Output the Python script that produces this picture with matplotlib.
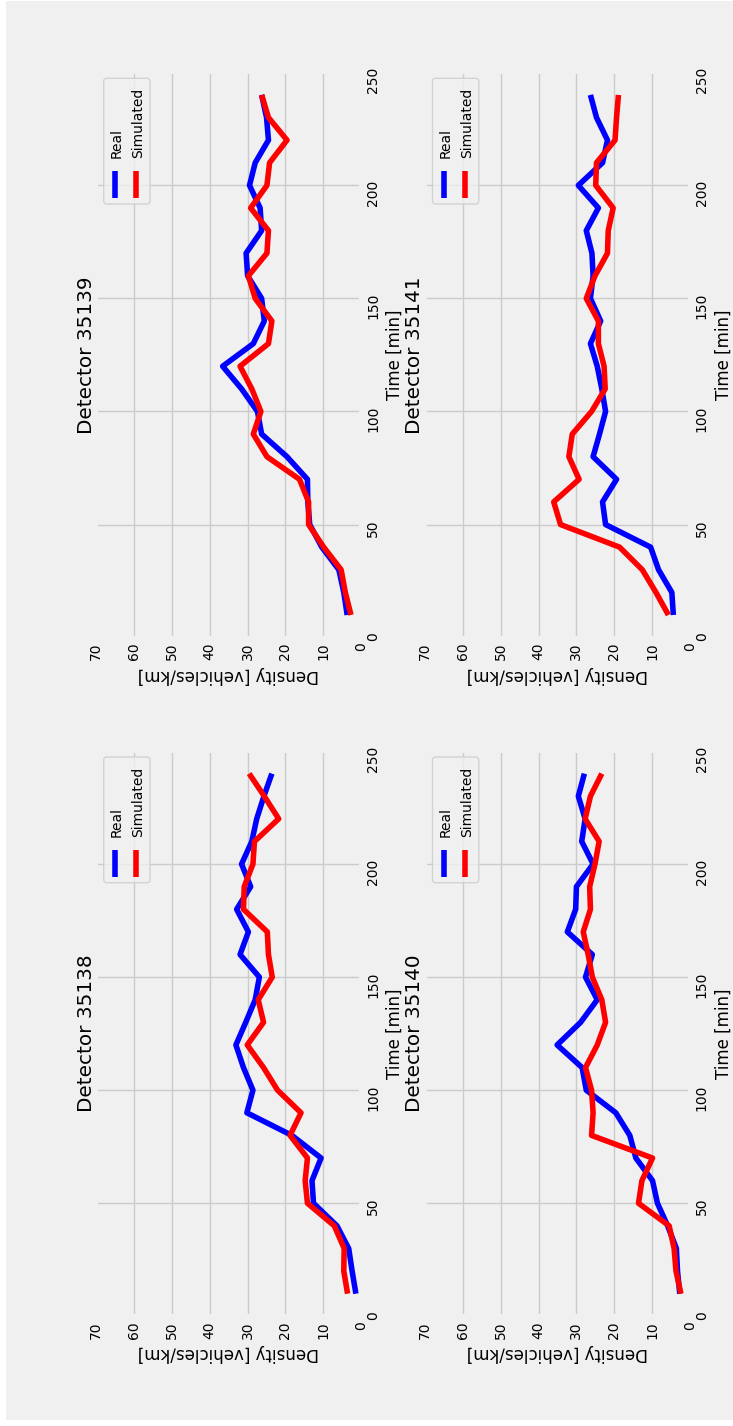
import matplotlib
matplotlib.use("Agg")
import matplotlib.pyplot as plt
import matplotlib.transforms as mtransforms
from matplotlib.patches import FancyBboxPatch, Rectangle
from matplotlib.lines import Line2D

plt.style.use("fivethirtyeight")
plt.rcParams["font.family"] = ["DejaVu Sans"]

# ---- data: traffic density per detector, sampled every 10 minutes ----
time_min = [10, 20, 30, 40, 50, 60, 70, 80, 90, 100, 110, 120,
            130, 140, 150, 160, 170, 180, 190, 200, 210, 220, 230, 240]

real_35138 = [1.4, 2.4, 3.3, 6.4, 12.6, 13.0, 10.6, 18.3, 30.2, 28.6, 31.1, 33.1,
              30.5, 28.0, 26.9, 32.0, 29.8, 32.9, 29.2, 31.6, 28.9, 27.6, 25.7, 23.6]
sim_35138 = [3.6, 4.6, 4.5, 7.1, 14.2, 14.8, 14.2, 18.8, 15.9, 22.1, 25.8, 30.1,
             25.8, 27.2, 23.5, 24.5, 24.8, 31.1, 30.9, 28.6, 28.2, 21.8, 25.6, 29.6]

real_35139 = [3.7, 4.6, 5.9, 10.4, 13.6, 14.1, 14.2, 19.6, 26.3, 27.4, 31.6, 36.6,
              28.5, 25.6, 26.3, 30.0, 30.4, 26.3, 26.7, 29.5, 28.0, 24.5, 25.0, 26.3]
sim_35139 = [2.7, 4.2, 5.3, 9.9, 13.9, 13.9, 16.3, 24.9, 28.5, 26.5, 28.9, 32.0,
             24.5, 23.6, 28.0, 29.8, 24.9, 24.5, 29.2, 24.9, 24.2, 19.6, 24.5, 26.3]

real_35140 = [2.7, 3.3, 3.6, 5.9, 8.6, 9.9, 14.3, 15.9, 19.6, 27.4, 28.5, 35.1,
              28.9, 24.5, 27.6, 25.8, 32.4, 30.2, 30.0, 25.6, 28.6, 27.7, 29.5, 27.9]
sim_35140 = [2.4, 3.7, 4.2, 5.5, 13.6, 12.7, 9.9, 26.0, 25.6, 26.0, 27.6, 24.5,
             22.3, 23.3, 25.8, 26.9, 28.2, 26.3, 26.5, 25.1, 24.0, 27.7, 26.3, 23.3]

real_35141 = [4.4, 4.8, 8.3, 10.4, 22.3, 23.1, 19.4, 25.6, 23.9, 22.3, 23.3, 24.5,
              26.3, 23.6, 26.3, 25.6, 25.9, 27.4, 24.2, 29.5, 23.1, 21.8, 24.7, 26.3]
sim_35141 = [5.7, 9.0, 12.6, 18.6, 34.2, 36.0, 29.3, 32.0, 31.1, 26.0, 22.4, 22.7,
             24.2, 24.2, 27.4, 25.1, 21.8, 21.6, 20.3, 24.9, 24.7, 19.8, 19.4, 18.9]

detectors = ["35139", "35138", "35141", "35140"]
real_series = [real_35139, real_35138, real_35141, real_35140]
sim_series = [sim_35139, sim_35138, sim_35141, sim_35140]
series_labels = ["Real", "Simulated"]
series_colors = ["blue", "red"]

density_ticks = [0, 10, 20, 30, 40, 50, 60, 70]
time_ticks = [0, 50, 100, 150, 200, 250]

# ---- figure layout (pixels) ----
W, H = 733, 1426
DPI = 100
fig = plt.figure(figsize=(W / DPI, H / DPI), dpi=DPI)
fig.patch.set_facecolor("#f0f0f0")

# thin white margin around the canvas
for (x0, y0, w, h) in [(0, 0, 6, H), (0, 0, W, 6), (0, H - 1, W, 1)]:
    fig.patches.append(Rectangle((x0, y0), w, h, transform=mtransforms.IdentityTransform(),
                                 facecolor="white", edgecolor="none", zorder=10))

col_left = [96.2, 425.0]
col_width = 265.0
row_top = [72.3, 751.0]
row_height = 565.3
cells = [(0, 0), (0, 1), (1, 0), (1, 1)]  # (column, row)


def draw_key(ax):
    """Legend drawn as a small rotated key in the upper-left of the axes."""
    bb = ax.get_position()
    ax_left = bb.x0 * W
    ax_top = bb.y1 * H  # display y (origin bottom)
    ident = mtransforms.IdentityTransform()

    def pt(dx, dy):
        return ax_left + dx, ax_top - dy

    bx0, by0 = pt(7.5, 131.7)
    box = FancyBboxPatch((bx0, by0), 46.3, 125.7,
                         boxstyle="round,pad=0,rounding_size=3",
                         transform=ident, facecolor="#f0f0f0", edgecolor="#cccccc",
                         alpha=0.8, linewidth=1.0, zorder=5)
    fig.patches.append(box)
    handle_x = [18.8, 39.8]
    text_x = [24.5, 45.8]
    for hx, tx, lab, col in zip(handle_x, text_x, series_labels, series_colors):
        x1, y1 = pt(hx, 99.0)
        x2, y2 = pt(hx, 125.7)
        fig.lines.append(Line2D([x1, x2], [y1, y2], transform=ident, color=col,
                                linewidth=4, solid_capstyle="butt", zorder=6))
        tx_, ty_ = pt(tx, 86.0)
        fig.text(tx_ / W, ty_ / H, lab, rotation=90, rotation_mode="anchor",
                 ha="left", va="baseline", fontsize=10, zorder=6)


for det, real, sim, (c, r) in zip(detectors, real_series, sim_series, cells):
    left = col_left[c] / W
    bottom = 1 - (row_top[r] + row_height) / H
    ax = fig.add_axes([left, bottom, col_width / W, row_height / H])
    ax.set_facecolor("#f0f0f0")

    ax.plot(real, time_min, color=series_colors[0], linewidth=4, label=series_labels[0])
    ax.plot(sim, time_min, color=series_colors[1], linewidth=4, label=series_labels[1])

    ax.set_xlim(70, 0)
    ax.set_ylim(0, 250)
    ax.set_xticks(density_ticks)
    ax.set_yticks(time_ticks)
    ax.yaxis.tick_right()
    ax.yaxis.set_label_position("right")
    ax.tick_params(axis="x", labelrotation=90, labelsize=10)
    ax.tick_params(axis="y", labelrotation=90, labelsize=10)

    ax.set_xlabel("Density [vehicles/km]", rotation=180, fontsize=12)
    ax.set_ylabel("Time [min]", fontsize=12)

    ax.annotate("Detector " + det, xy=(0, 0.5), xycoords="axes fraction",
                xytext=(-3.3, 0), textcoords="offset points",
                rotation=90, rotation_mode="anchor", ha="center", va="baseline",
                fontsize=14.4)

    draw_key(ax)

fig.savefig("out.png", dpi=DPI, facecolor=fig.get_facecolor())
